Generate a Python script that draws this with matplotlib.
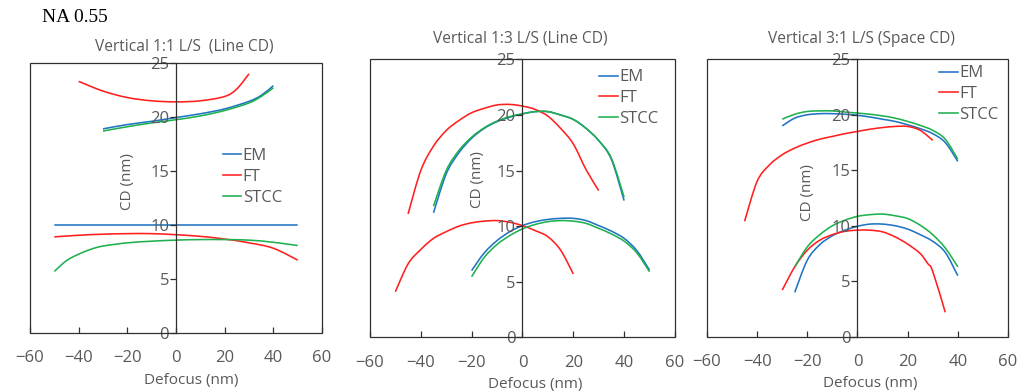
import matplotlib
matplotlib.use('Agg')
import matplotlib.pyplot as plt
from matplotlib.patches import Rectangle, PathPatch
from matplotlib.path import Path
from matplotlib.lines import Line2D

plt.rcParams['font.family'] = ['Open Sans', 'DejaVu Sans']

# colores de cada modelo
c_em = '#1f74c4'
c_ft = '#ff1f1f'
c_stcc = '#1fb04f'
gris = '#595959'
negro = '#303030'

titulos = ['Vertical 1:1 L/S  (Line CD)', 'Vertical 1:3 L/S (Line CD)', 'Vertical 3:1 L/S (Space CD)']
xticks = [-60, -40, -20, 0, 20, 40, 60]
yticks = [0, 5, 10, 15, 20, 25]

# ---- 1:1 L/S ----
x11_ft_a = [-40, -30, -20, -10, 0, 10, 20, 25, 30]
y11_ft_a = [23.3, 22.4, 21.8, 21.5, 21.4, 21.5, 21.9, 22.6, 24.0]
x11_em_a = [-30, -20, -10, 0, 10, 20, 30, 35, 40]
y11_em_a = [18.9, 19.3, 19.6, 19.95, 20.3, 20.75, 21.45, 22.0, 22.9]
x11_st_a = [-30, -20, -10, 0, 10, 20, 30, 35, 40]
y11_st_a = [18.7, 19.1, 19.45, 19.75, 20.1, 20.6, 21.3, 21.9, 22.7]
x11_em_b = [-50, -40, -30, -20, -10, 0, 10, 20, 30, 40, 50]
y11_em_b = [10.0, 10.0, 10.0, 10.0, 10.0, 10.0, 10.0, 10.0, 10.0, 10.0, 10.0]
x11_ft_b = [-50, -40, -30, -20, -10, 0, 10, 20, 30, 40, 50]
y11_ft_b = [8.9, 9.05, 9.15, 9.2, 9.2, 9.1, 8.95, 8.7, 8.35, 7.85, 6.75]
x11_st_b = [-50, -45, -40, -35, -30, -20, -10, 0, 10, 20, 30, 40, 50]
y11_st_b = [5.7, 6.7, 7.3, 7.75, 8.05, 8.35, 8.5, 8.6, 8.65, 8.65, 8.6, 8.4, 8.1]

# ---- 1:3 L/S ----
x13_ft_a = [-45, -40, -35, -30, -25, -20, -15, -10, -5, 0, 5, 10, 15, 20, 25, 30]
y13_ft_a = [11.1, 15.0, 17.2, 18.6, 19.5, 20.2, 20.6, 20.9, 20.95, 20.8, 20.5, 19.9, 18.8, 17.4, 15.1, 13.2]
x13_em_a = [-35, -30, -25, -20, -15, -10, -5, 0, 5, 10, 15, 20, 25, 30, 35, 40]
y13_em_a = [11.2, 14.7, 16.6, 17.9, 18.8, 19.4, 19.8, 20.1, 20.3, 20.3, 20.0, 19.6, 18.8, 17.7, 16.0, 12.3]
x13_st_a = [-35, -30, -25, -20, -15, -10, -5, 0, 5, 10, 15, 20, 25, 30, 35, 40]
y13_st_a = [11.8, 15.0, 16.8, 18.0, 18.85, 19.45, 19.85, 20.1, 20.3, 20.3, 20.0, 19.6, 18.8, 17.7, 16.1, 12.6]
x13_ft_b = [-50, -45, -40, -35, -30, -25, -20, -15, -10, -5, 0, 5, 10, 15, 20]
y13_ft_b = [4.1, 6.6, 7.9, 8.9, 9.5, 10.0, 10.3, 10.45, 10.5, 10.35, 10.05, 9.6, 9.05, 7.85, 5.7]
x13_em_b = [-20, -15, -10, -5, 0, 5, 10, 15, 20, 25, 30, 35, 40, 45, 50]
y13_em_b = [6.0, 7.6, 8.7, 9.5, 10.05, 10.4, 10.6, 10.7, 10.7, 10.5, 10.05, 9.55, 8.9, 7.8, 6.05]
x13_st_b = [-20, -15, -10, -5, 0, 5, 10, 15, 20, 25, 30, 35, 40, 45, 50]
y13_st_b = [5.45, 7.2, 8.35, 9.15, 9.75, 10.15, 10.4, 10.5, 10.45, 10.25, 9.8, 9.3, 8.65, 7.6, 5.9]

# ---- 3:1 L/S ----
x31_em_a = [-30, -25, -20, -15, -10, -5, 0, 5, 10, 15, 20, 25, 30, 35, 40]
y31_em_a = [19.0, 19.7, 20.0, 20.1, 20.1, 20.05, 19.95, 19.8, 19.6, 19.4, 19.1, 18.75, 18.3, 17.5, 15.8]
x31_st_a = [-30, -25, -20, -15, -10, -5, 0, 5, 10, 15, 20, 25, 30, 35, 40]
y31_st_a = [19.6, 20.05, 20.3, 20.35, 20.35, 20.25, 20.15, 20.05, 19.9, 19.7, 19.4, 19.05, 18.6, 17.8, 16.0]
x31_ft_a = [-45, -40, -35, -30, -25, -20, -15, -10, -5, 0, 5, 10, 15, 20, 25, 30]
y31_ft_a = [10.4, 14.0, 15.5, 16.4, 17.0, 17.45, 17.8, 18.05, 18.3, 18.5, 18.7, 18.85, 18.95, 18.95, 18.6, 17.7]
x31_em_b = [-25, -20, -15, -10, -5, 0, 5, 10, 15, 20, 25, 30, 35, 40]
y31_em_b = [4.0, 6.9, 8.3, 9.1, 9.6, 9.95, 10.15, 10.15, 10.0, 9.7, 9.2, 8.6, 7.6, 5.5]
x31_st_b = [-25, -20, -15, -10, -5, 0, 5, 10, 15, 20, 25, 30, 35, 40]
y31_st_b = [6.3, 8.1, 9.2, 10.0, 10.5, 10.85, 11.0, 11.05, 10.9, 10.65, 10.05, 9.2, 8.0, 6.3]
x31_ft_b = [-30, -25, -20, -15, -10, -5, 0, 5, 10, 15, 20, 25, 28, 30, 35]
y31_ft_b = [4.2, 6.3, 7.8, 8.7, 9.2, 9.5, 9.6, 9.6, 9.45, 9.0, 8.35, 7.5, 6.6, 5.9, 2.2]

paneles = [
    [(x11_em_a, y11_em_a, x11_em_b, y11_em_b),
     (x11_ft_a, y11_ft_a, x11_ft_b, y11_ft_b),
     (x11_st_a, y11_st_a, x11_st_b, y11_st_b)],
    [(x13_em_a, y13_em_a, x13_em_b, y13_em_b),
     (x13_ft_a, y13_ft_a, x13_ft_b, y13_ft_b),
     (x13_st_a, y13_st_a, x13_st_b, y13_st_b)],
    [(x31_em_a, y31_em_a, x31_em_b, y31_em_b),
     (x31_ft_a, y31_ft_a, x31_ft_b, y31_ft_b),
     (x31_st_a, y31_st_a, x31_st_b, y31_st_b)],
]
nombres = ['EM', 'FT', 'STCC']
colores = [c_em, c_ft, c_stcc]

# posiciones de los ejes en la figura
cajas = [[0.0294, 0.1505, 0.2863, 0.6888],
         [0.3627, 0.1395, 0.2990, 0.7090],
         [0.6931, 0.1410, 0.2951, 0.7077]]
pos_ylabel = [(0.36, 0.56), (0.377, 0.566), (0.359, 0.52)]
pos_xlabel = [0.551, 0.543, 0.543]
pos_leyenda = [(0.66, 0.684), (0.752, 0.964), (0.772, 0.978)]
pos_titulo = [(0.527, 1.048), (0.492, 1.06), (0.514, 1.06)]


def linea_suave(ax, x, y, col):
    # curva suavizada tipo Excel (Bezier por los puntos)
    pts = list(zip(x, y))
    verts = [pts[0]]
    codes = [Path.MOVETO]
    for i in range(len(pts) - 1):
        p0 = pts[i - 1] if i > 0 else pts[i]
        p1 = pts[i]
        p2 = pts[i + 1]
        p3 = pts[i + 2] if i + 2 < len(pts) else pts[i + 1]
        c1 = (p1[0] + (p2[0] - p0[0]) / 6, p1[1] + (p2[1] - p0[1]) / 6)
        c2 = (p2[0] - (p3[0] - p1[0]) / 6, p2[1] - (p3[1] - p1[1]) / 6)
        verts += [c1, c2, p2]
        codes += [Path.CURVE4] * 3
    ax.add_patch(PathPatch(Path(verts, codes), fill=False, edgecolor=col, lw=1.15,
                           capstyle='butt', joinstyle='round'))


fig = plt.figure(figsize=(10.2, 3.92), dpi=100)

for i in range(3):
    ax = fig.add_axes(cajas[i])
    for (xa, ya, xb, yb), col in zip(paneles[i], colores):
        linea_suave(ax, xa, ya, col)
        linea_suave(ax, xb, yb, col)
    ax.set_xlim(-60, 60)
    ax.set_ylim(0, 25)
    ax.set_xticks(xticks)
    ax.set_yticks(yticks)

    # eje y en x=0 y caja alrededor
    ax.spines['left'].set_position(('data', 0))
    ax.spines['left'].set_color(negro)
    ax.spines['left'].set_linewidth(0.9)
    for s in ['top', 'right', 'bottom']:
        ax.spines[s].set_visible(False)
    ax.add_patch(Rectangle((0, 0), 1, 1, transform=ax.transAxes, fill=False,
                           edgecolor=negro, lw=0.9, clip_on=False, zorder=3))

    ax.tick_params(axis='y', direction='out', length=4, width=0.9, color=negro,
                   labelcolor=gris, labelsize=12, pad=1)
    ax.tick_params(axis='x', direction='in', length=4, width=0.9, color=negro,
                   labelcolor=gris, labelsize=12, pad=12.5)
    ax.set_xlabel('Defocus (nm)', color=gris, fontsize=11, labelpad=4.5, x=pos_xlabel[i])
    ax.set_ylabel('CD (nm)', color=gris, fontsize=11)
    ax.yaxis.set_label_coords(*pos_ylabel[i])
    ax.set_title(titulos[i], color=gris, fontsize=11.2, x=pos_titulo[i][0],
                 y=pos_titulo[i][1], pad=0)

    handles = [Line2D([], [], color=c, lw=1.15) for c in colores]
    ax.legend(handles, nombres, loc='upper left', bbox_to_anchor=pos_leyenda[i], frameon=False,
              fontsize=12, handlelength=1.1, handletextpad=0.1, labelspacing=0.28,
              borderpad=0, borderaxespad=0, labelcolor=gris)

fig.text(0.041, 0.955, 'NA 0.55', family='Liberation Serif', fontsize=14, color='black',
         va='center', ha='left')

fig.savefig('out.png', dpi=100)
